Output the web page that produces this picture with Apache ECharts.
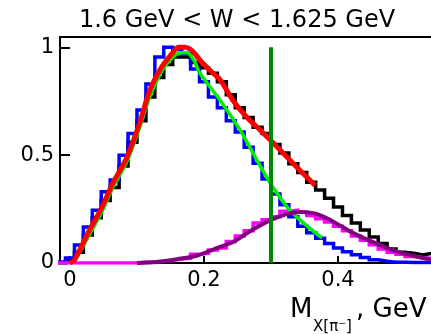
<!DOCTYPE html>
<html><head><meta charset="utf-8">
<script src="https://cdn.jsdelivr.net/npm/echarts@6/dist/echarts.min.js"></script>
<style>html,body{margin:0;padding:0;background:#fff}#c{width:431px;height:334px}</style>
</head><body><div id="c"></div>
<script>
// Histogram bins (centers, width) and contents
const binWidth = 0.013333;
const binCenters = [-0.013333,0,0.013333,0.026667,0.04,0.053333,0.066667,0.08,0.093333,0.106667,0.12,0.133333,0.146667,0.16,0.173333,0.186667,0.2,0.213333,0.226667,0.24,0.253333,0.266667,0.28,0.293333,0.306667,0.32,0.333333,0.346667,0.36,0.373333,0.386667,0.4,0.413333,0.426667,0.44,0.453333,0.466667,0.48,0.493333,0.506667,0.52,0.533333];
const dataHist = [0,0.01,0.05,0.13,0.21,0.29,0.35,0.45,0.56,0.66,0.77,0.86,0.92,0.955,0.955,0.93,0.905,0.88,0.84,0.78,0.72,0.675,0.63,0.60,0.55,0.51,0.46,0.42,0.375,0.338,0.30,0.26,0.22,0.185,0.153,0.12,0.09,0.065,0.05,0.045,0.037,0.045];
const blueHist = [0.005,0.023,0.083,0.167,0.245,0.33,0.385,0.5,0.6,0.71,0.83,0.955,1.0,0.99,0.97,0.9,0.84,0.77,0.72,0.66,0.607,0.537,0.463,0.39,0.32,0.27,0.215,0.17,0.14,0.115,0.09,0.07,0.052,0.038,0.025,0.015,0.008,0.004,0.003,0.002,0.002,0.002];
const magentaHist = [0,0,0,0,0,0,0,0,0,0.003,0.005,0.008,0.012,0.018,0.022,0.04,0.045,0.06,0.07,0.1,0.125,0.15,0.185,0.2,0.215,0.24,0.245,0.235,0.22,0.205,0.19,0.17,0.15,0.125,0.105,0.085,0.065,0.05,0.04,0.03,0.025,0.022];
// Fit curves
const redX = [0.0,0.007,0.027,0.048,0.064,0.085,0.104,0.119,0.137,0.152,0.162,0.172,0.18,0.188,0.194,0.21,0.224,0.243,0.264,0.284,0.299,0.318,0.343,0.366];
const redY = [0.0,0.015,0.14,0.26,0.37,0.49,0.65,0.8,0.91,0.97,1.0,1.0,0.99,0.965,0.94,0.89,0.85,0.755,0.676,0.616,0.57,0.51,0.43,0.36];
const greenX = [0.0,0.007,0.027,0.048,0.064,0.085,0.104,0.119,0.137,0.152,0.165,0.175,0.185,0.194,0.224,0.254,0.279,0.299,0.324,0.343,0.376];
const greenY = [0.0,0.01,0.12,0.24,0.35,0.47,0.63,0.77,0.89,0.95,0.975,0.975,0.94,0.88,0.755,0.616,0.477,0.37,0.26,0.2,0.116];
const purpleX = [0.10,0.13,0.16,0.19,0.22,0.245,0.27,0.3,0.325,0.345,0.365,0.385,0.405,0.425,0.45,0.475,0.5,0.525,0.545];
const purpleY = [0.0,0.005,0.018,0.035,0.07,0.1,0.15,0.2,0.228,0.237,0.23,0.205,0.17,0.135,0.1,0.068,0.042,0.024,0.013];
// Cut line
const cutX = 0.3, cutYLow = 0, cutYHigh = 1.0;
// Axes
const xTicks = [0, 0.2, 0.4];
const yTicks = [0, 0.5, 1];
const titleText = '1.6 GeV < W < 1.625 GeV';

function stepPoints(vals){
  const pts = [];
  for (let i = 0; i < binCenters.length; i++){
    pts.push([binCenters[i] - binWidth/2, vals[i]]);
    pts.push([binCenters[i] + binWidth/2, vals[i]]);
  }
  return pts;
}
function zip(xs, ys){ return xs.map((x,i)=>[x, ys[i]]); }

const FONT = '"DejaVu Sans", sans-serif';
const chart = echarts.init(document.getElementById('c'), null, {renderer:'canvas'});
function lineSeries(data, color, width, smooth, z){
  return {type:'line', data, symbol:'none', smooth: smooth, clip:true, z:z,
    lineStyle:{color, width, join:'miter'}, emphasis:{disabled:true}, silent:true, animation:false};
}
chart.setOption({
  animation:false,
  backgroundColor:'#fff',
  grid:{left:60, right:0, top:37, bottom:71},
  xAxis:[{
    type:'value', min:-0.0149, max:0.5388, position:'bottom',
    axisLine:{show:true, onZero:false, lineStyle:{color:'#000', width:2}},
    axisTick:{show:true, inside:true, length:7, customValues:xTicks, lineStyle:{color:'#000', width:2}},
    axisLabel:{show:true, customValues:xTicks, margin:7, color:'#000', fontFamily:'DejaVu Sans', fontSize:21,
      formatter:v=>String(v)},
    splitLine:{show:false}
  },{
    type:'value', min:-0.0149, max:0.5388, position:'top',
    axisLine:{show:true, onZero:false, lineStyle:{color:'#000', width:2}},
    axisTick:{show:false}, axisLabel:{show:false}, splitLine:{show:false}
  }],
  yAxis:{
    type:'value', min:0, max:1.048, position:'left',
    axisLine:{show:true, onZero:false, lineStyle:{color:'#000', width:2}},
    axisTick:{show:true, inside:true, length:10, customValues:yTicks, lineStyle:{color:'#000', width:2}},
    axisLabel:{show:true, customValues:yTicks, margin:6, color:'#000', fontFamily:'DejaVu Sans', fontSize:21,
      formatter:v=>String(v)},
    splitLine:{show:false}
  },
  series:[
    lineSeries(stepPoints(dataHist), '#000000', 3.5, false, 2),
    lineSeries(stepPoints(blueHist), '#0000ff', 3.5, false, 3),
    lineSeries(stepPoints(magentaHist), '#ff00ff', 3.5, false, 4),
    lineSeries(zip(greenX, greenY), '#00ee00', 3.5, 0.3, 5),
    lineSeries(zip(purpleX, purpleY), '#800080', 4, 0.3, 6),
    lineSeries(zip(redX, redY), '#ff0000', 5, 0.3, 7),
    lineSeries([[cutX, cutYLow],[cutX, cutYHigh]], '#008800', 4, false, 8)
  ],
  graphic:[
    {type:'text', x:237, y:21, style:{text:titleText, font:'24px '+FONT, fill:'#000', textAlign:'center', textVerticalAlign:'middle'}},
    {type:'text', x:290, y:310, style:{text:'M', font:'26px '+FONT, fill:'#000', textAlign:'left', textVerticalAlign:'middle'}},
    {type:'text', x:313, y:327, style:{text:'X[π⁻]', font:'15px '+FONT, fill:'#000', textAlign:'left', textVerticalAlign:'middle'}},
    {type:'text', x:356, y:310, style:{text:', GeV', font:'26px '+FONT, fill:'#000', textAlign:'left', textVerticalAlign:'middle'}}
  ]
});
</script></body></html>
